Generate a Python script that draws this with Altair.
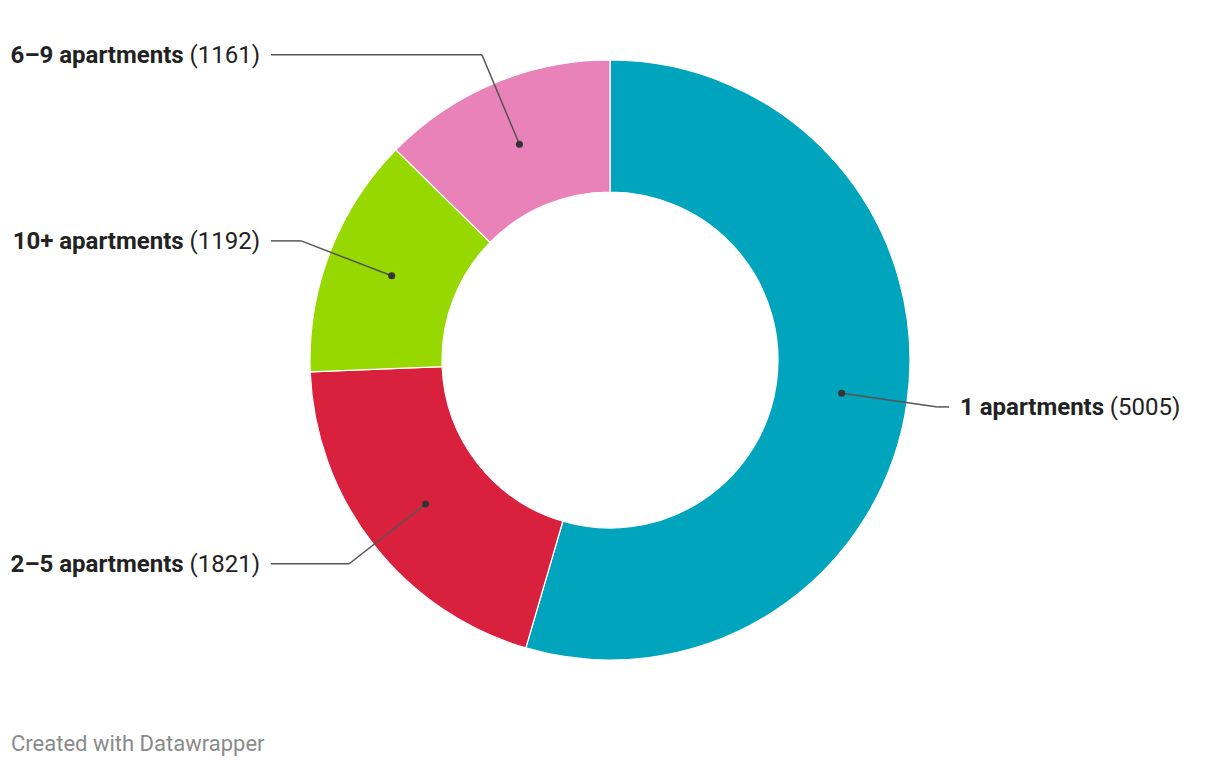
import altair as alt
import pandas as pd

# ---- data ----
categories = ["1 apartments", "2–5 apartments", "10+ apartments", "6–9 apartments"]
counts = [5005, 1821, 1192, 1161]
colors = ["#00a5bd", "#d9213d", "#96d800", "#e882b9"]
footer = "Created with Datawrapper"

# ---- layout / style ----
FS = 24
FOOT_FS = 22
CX, CY = 602, 352
R_OUT, R_IN = 300, 168
R_DOT, R_ELB, X_END, X_TXT = 234, 331, 339, 350

# approximate Roboto Bold advance widths (em)
BOLD = {" ": 0.25, "a": 0.54, "p": 0.57, "r": 0.36, "t": 0.335, "m": 0.88,
        "e": 0.535, "n": 0.56, "s": 0.525, "+": 0.55, "–": 0.55}
def bold_width(s):
    return sum(BOLD.get(c, 0.5615) for c in s) * FS

df = pd.DataFrame({
    "idx": list(range(len(categories))),
    "name": categories,
    "value": counts,
    "name_w": [bold_width(c) for c in categories],
})

base = alt.Chart(df)

arcs = base.mark_arc(radius=R_OUT, radius2=R_IN, stroke="white", strokeWidth=1.2).encode(
    theta=alt.Theta("value:Q", stack=True),
    order=alt.Order("idx:Q"),
    color=alt.Color("name:N", scale=alt.Scale(domain=categories, range=colors), legend=None),
    x=alt.value(CX),
    y=alt.value(CY),
)

geo = (
    base.transform_window(cum="sum(value)", sort=[alt.SortField("idx")], frame=[None, 0])
    .transform_joinaggregate(total="sum(value)")
    .transform_calculate(mid="(datum.cum - datum.value/2)/datum.total*2*PI")
    .transform_calculate(sx="sin(datum.mid)")
    .transform_calculate(sy="-cos(datum.mid)")
    .transform_calculate(side="datum.sx >= 0 ? 1 : -1")
    .transform_calculate(x1=f"{CX} + {R_DOT}*datum.sx")
    .transform_calculate(y1=f"{CY} + {R_DOT}*datum.sy")
    .transform_calculate(x2=f"{CX} + {R_ELB}*datum.sx")
    .transform_calculate(y2=f"{CY} + {R_ELB}*datum.sy")
    .transform_calculate(ty="datum.y2 + 1")
    .transform_calculate(x3=f"{CX} + datum.side*{X_END}")
    .transform_calculate(tx=f"{CX} + datum.side*{X_TXT}")
    .transform_calculate(paren="'(' + datum.value + ')'")
    .transform_calculate(pw=f"(length(toString(datum.value))*0.5615 + 0.3418 + 0.3486 + 0.2476)*{FS}")
)

def X(f):
    return alt.X(f, type="quantitative", scale=None, axis=None)
def Y(f):
    return alt.Y(f, type="quantitative", scale=None, axis=None)

seg1 = geo.mark_rule(color="#555555", strokeWidth=1.5).encode(
    x=X("x1"), y=Y("y1"), x2="x2:Q", y2="y2:Q")
seg2 = geo.mark_rule(color="#555555", strokeWidth=1.5).encode(
    x=X("x2"), y=Y("y2"), x2="x3:Q", y2="y2:Q")
dots = geo.mark_circle(size=50, color="#333333", opacity=1).encode(x=X("x1"), y=Y("y1"))

left = geo.transform_filter("datum.side < 0").transform_calculate(bx="datum.tx - datum.pw")
right = geo.transform_filter("datum.side > 0").transform_calculate(
    px=f"datum.tx + datum.name_w + 0.2476*{FS}")

txt = dict(baseline="middle", font="Roboto", fontSize=FS, color="#222222")
left_paren = left.mark_text(align="right", **txt).encode(x=X("tx"), y=Y("ty"), text="paren:N")
left_bold = left.mark_text(align="right", fontWeight="bold", **txt).encode(
    x=X("bx"), y=Y("ty"), text="name:N")
right_bold = right.mark_text(align="left", fontWeight="bold", **txt).encode(
    x=X("tx"), y=Y("ty"), text="name:N")
right_paren = right.mark_text(align="left", **txt).encode(x=X("px"), y=Y("ty"), text="paren:N")

foot = alt.Chart(pd.DataFrame({"t": [footer]})).mark_text(
    align="left", baseline="middle", font="Roboto", fontSize=FOOT_FS, color="#8a8a8a"
).encode(x=alt.value(3), y=alt.value(736), text="t:N")

chart = alt.layer(
    arcs, seg1, seg2, dots, left_paren, left_bold, right_bold, right_paren, foot
).properties(
    width=1204, height=750, padding=0, background="white",
    autosize=alt.AutoSizeParams(type="none"),
).configure_view(stroke=None)

chart.save("out.html", embed_options={"renderer": "svg", "actions": False})
